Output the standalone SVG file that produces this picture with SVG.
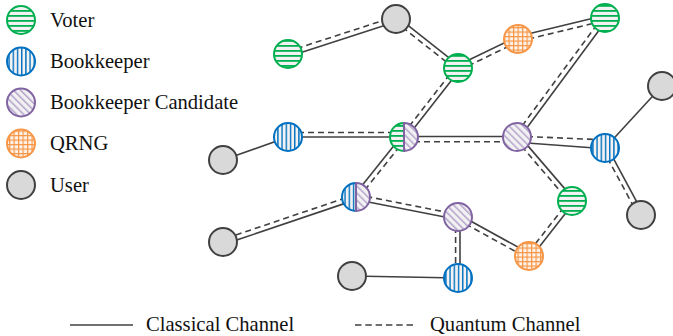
<svg xmlns="http://www.w3.org/2000/svg" width="673" height="336" viewBox="0 0 673 336">
<style>
text{font-family:"Liberation Serif","Times New Roman",serif;font-size:20.6px;fill:#111}
.c{stroke:#404040;stroke-width:1.6;fill:none}
.q{stroke:#404040;stroke-width:1.6;fill:none;stroke-dasharray:6 4}
.voter{fill:url(#pV);stroke:#00b050;stroke-width:2}
.bk{fill:url(#pB);stroke:#0070c0;stroke-width:2}
.bc{fill:url(#pC);stroke:#8064a2;stroke-width:2}
.qr{fill:url(#pQ);stroke:#f79646;stroke-width:2}
.user{fill:#d9d9d9;stroke:#404040;stroke-width:2}
</style>
<defs>
<pattern id="pV" width="6" height="5" patternUnits="userSpaceOnUse">
<rect width="6" height="5" fill="#f2f2f2"/><rect y="0" width="6" height="1.8" fill="#00b050"/>
</pattern>
<pattern id="pB" width="4.2" height="6" patternUnits="userSpaceOnUse">
<rect width="4.2" height="6" fill="#f2f2f2"/><rect x="0" width="1.4" height="6" fill="#0070c0"/>
</pattern>
<pattern id="pC" width="5" height="5" patternUnits="userSpaceOnUse" patternTransform="rotate(-45)">
<rect width="5" height="5" fill="#f2f2f2"/><rect x="0" width="1.5" height="5" fill="#b4a2cc"/>
</pattern>
<pattern id="pQ" width="4.5" height="4.5" patternUnits="userSpaceOnUse">
<rect width="4.5" height="4.5" fill="#fdf3ea"/><rect width="1.2" height="4.5" fill="#f79646"/><rect width="4.5" height="1.2" fill="#f79646"/>
</pattern>
</defs>

<g id="connectors">
<line class="q" x1="287.2" y1="51.6" x2="395.2" y2="16.6"/><line class="c" x1="288.8" y1="56.4" x2="396.8" y2="21.4"/>
<line class="q" x1="394.45" y1="20.96" x2="456.45" y2="69.96"/><line class="c" x1="397.55" y1="17.04" x2="459.55" y2="66.04"/>
<line class="q" x1="459.09" y1="70.25" x2="519.09" y2="41.25"/><line class="c" x1="456.91" y1="65.75" x2="516.91" y2="36.75"/>
<line class="q" x1="518.59" y1="41.43" x2="605.59" y2="20.43"/><line class="c" x1="517.41" y1="36.57" x2="604.41" y2="15.57"/>
<line class="q" x1="456.03" y1="66.46" x2="402.03" y2="135.46"/><line class="c" x1="459.97" y1="69.54" x2="405.97" y2="138.54"/>
<line class="q" x1="602.99" y1="16.51" x2="514.99" y2="135.51"/><line class="c" x1="607.01" y1="19.49" x2="519.01" y2="138.49"/>
<line class="c" x1="662" y1="86" x2="605" y2="148"/>
<line class="c" x1="288" y1="137" x2="223" y2="160"/>
<line class="q" x1="288" y1="132.5" x2="404" y2="132.5"/><line class="c" x1="288" y1="137" x2="404" y2="137"/>
<line class="c" x1="404" y1="136.5" x2="517" y2="136.5"/><line class="q" x1="404" y1="141.8" x2="517" y2="141.8"/>
<line class="q" x1="517" y1="136.1" x2="605" y2="139.9"/><line class="c" x1="517" y1="142.2" x2="605" y2="148.8"/>
<line class="q" x1="602.8" y1="149.18" x2="638.8" y2="216.18"/><line class="c" x1="607.2" y1="146.82" x2="643.2" y2="213.82"/>
<line class="q" x1="515.1" y1="138.63" x2="570.1" y2="202.63"/><line class="c" x1="518.9" y1="135.37" x2="573.9" y2="199.37"/>
<line class="q" x1="570.03" y1="199.46" x2="527.03" y2="254.46"/><line class="c" x1="573.97" y1="202.54" x2="530.97" y2="257.54"/>
<line class="q" x1="405.95" y1="138.56" x2="357.95" y2="198.56"/><line class="c" x1="402.05" y1="135.44" x2="354.05" y2="195.44"/>
<line class="q" x1="355.2" y1="194.63" x2="222.2" y2="239.63"/><line class="c" x1="356.8" y1="199.37" x2="223.8" y2="244.37"/>
<line class="q" x1="356.48" y1="194.55" x2="458.48" y2="214.55"/><line class="c" x1="355.52" y1="199.45" x2="457.52" y2="219.45"/>
<line class="q" x1="455.6" y1="217" x2="455.6" y2="278"/><line class="c" x1="460" y1="217" x2="460" y2="278"/>
<line class="q" x1="456.8" y1="219.19" x2="527.8" y2="258.19"/><line class="c" x1="459.2" y1="214.81" x2="530.2" y2="253.81"/>
<line class="c" x1="352" y1="276" x2="458" y2="278"/>
</g>

<g id="voter-a"><circle class="voter" cx="288" cy="54" r="14"/></g>
<g id="user-top"><circle class="user" cx="396" cy="19" r="14"/></g>
<g id="voter-b"><circle class="voter" cx="458" cy="68" r="14"/></g>
<g id="qrng-top"><circle class="qr" cx="518" cy="39" r="14"/></g>
<g id="voter-tr"><circle class="voter" cx="605" cy="18" r="14"/></g>
<g id="user-right"><circle class="user" cx="662" cy="86" r="14"/></g>
<g id="bk-left"><circle class="bk" cx="288" cy="137" r="14"/></g>
<g id="user-left"><circle class="user" cx="223" cy="160" r="14"/></g>
<g id="voter-bc">
<path class="voter" d="M404,123 A14,14 0 0 0 404,151 Z"/>
<path class="bc" d="M404,123 A14,14 0 0 1 404,151 Z"/>
</g>
<g id="bc-center"><circle class="bc" cx="517" cy="137" r="14"/></g>
<g id="bk-right"><circle class="bk" cx="605" cy="148" r="14"/></g>
<g id="voter-lr"><circle class="voter" cx="572" cy="201" r="14"/></g>
<g id="user-rl"><circle class="user" cx="641" cy="215" r="14"/></g>
<g id="bk-bc">
<path class="bk" d="M356,183 A14,14 0 0 0 356,211 Z"/>
<path class="bc" d="M356,183 A14,14 0 0 1 356,211 Z"/>
</g>
<g id="bc-lower"><circle class="bc" cx="458" cy="217" r="14"/></g>
<g id="qrng-bottom"><circle class="qr" cx="529" cy="256" r="14"/></g>
<g id="bk-bottom"><circle class="bk" cx="458" cy="278" r="14"/></g>
<g id="user-bl"><circle class="user" cx="352" cy="276" r="14"/></g>
<g id="user-ll"><circle class="user" cx="223" cy="242" r="14"/></g>

<g id="legend">
<circle class="voter" cx="21" cy="20" r="14"/><text x="50" y="27">Voter</text>
<circle class="bk" cx="21" cy="61.5" r="14"/><text x="50" y="68">Bookkeeper</text>
<circle class="bc" cx="21" cy="102.5" r="14"/><text x="50" y="109">Bookkeeper Candidate</text>
<circle class="qr" cx="21" cy="143.5" r="14"/><text x="50" y="150">QRNG</text>
<circle class="user" cx="21" cy="185" r="14"/><text x="50" y="192">User</text>
<line class="c" x1="70" y1="325" x2="133" y2="325"/><text x="146" y="331">Classical Channel</text>
<line class="q" x1="355" y1="325" x2="413" y2="325" style="stroke-dasharray:6.5 3.8"/><text x="430" y="331">Quantum Channel</text>
</g>
</svg>
